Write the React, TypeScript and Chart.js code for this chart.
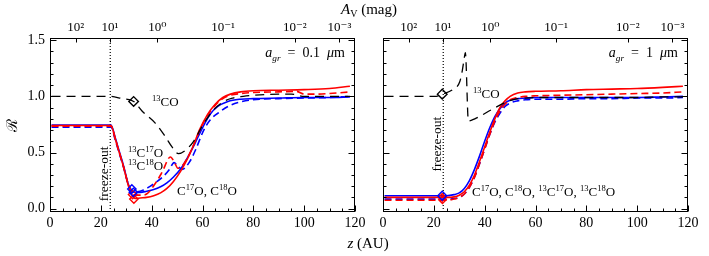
import React, { useEffect, useRef } from 'react';
import { Chart, registerables } from 'chart.js';

Chart.register(...registerables);

const SERIF = '"Liberation Serif", "DejaVu Serif", "Times New Roman", serif';
const RED = '#ff0000';
const BLUE = '#0000ff';
const BLACK = '#000000';

// ---- axes ----
const zMin = 0;
const zMax = 120;
const rMin = -0.03;
const rMax = 1.52;
const zTicks = [0, 20, 40, 60, 80, 100, 120];
const zMinorStep = 5;
const rTicks = [0, 0.5, 1.0, 1.5];
const rMinorStep = 0.1;
const avTickZ = [10.1, 23.6, 42.2, 68.1, 96.3, 113.9];
const avTickLabels = ['10²', '10¹', '10⁰', '10⁻¹', '10⁻²', '10⁻³'];
const freezeOutZ = 23.7;

// ---- left panel (a_gr = 0.1 um) ----
const lBlueSolidZ = [0.6, 24, 25.7, 27, 28.9, 30.9, 32.3, 33.5, 35.5, 38, 40.8, 43.5, 46, 48.5, 51.3, 54, 57, 60, 63, 66, 70, 75, 80, 90, 100, 110, 118];
const lBlueSolidR = [0.745, 0.745, 0.63, 0.53, 0.385, 0.21, 0.155, 0.145, 0.145, 0.155, 0.17, 0.195, 0.23, 0.28, 0.35, 0.45, 0.58, 0.72, 0.84, 0.91, 0.955, 0.975, 0.98, 0.985, 0.99, 0.99, 0.995];

const lRedSolidZ = [0.6, 24, 25.7, 27, 28.9, 30.9, 32.3, 33.5, 35.5, 38, 40.8, 43.5, 46, 48.5, 51.3, 54, 56, 59, 62, 65, 68, 71, 75, 80, 90, 100, 110, 118];
const lRedSolidR = [0.74, 0.74, 0.62, 0.52, 0.375, 0.2, 0.12, 0.09, 0.095, 0.1, 0.115, 0.14, 0.18, 0.24, 0.33, 0.44, 0.54, 0.71, 0.84, 0.93, 0.99, 1.02, 1.04, 1.05, 1.055, 1.06, 1.07, 1.09];

const lRedDashZ = [0.6, 24, 25.7, 27, 28.9, 30.9, 32.3, 34, 36, 38, 41, 44, 47.4, 49, 50.3, 52, 54, 56, 59, 62, 65, 68, 71, 75, 80, 90, 97, 100, 104, 110, 118];
const lRedDashR = [0.735, 0.735, 0.62, 0.52, 0.375, 0.21, 0.14, 0.12, 0.12, 0.13, 0.21, 0.32, 0.46, 0.41, 0.36, 0.38, 0.45, 0.54, 0.7, 0.83, 0.92, 0.98, 1.01, 1.025, 1.035, 1.04, 1.045, 1.02, 1.02, 1.025, 1.04];

const lBlueDashZ = [0.6, 24, 25.7, 27, 28.9, 30.9, 32.3, 34, 36.8, 39.5, 42, 44.7, 47, 48.8, 50.3, 52, 55, 57.2, 60.5, 63, 67, 70, 74, 80, 90, 100, 110, 118];
const lBlueDashR = [0.725, 0.725, 0.61, 0.51, 0.37, 0.21, 0.16, 0.15, 0.165, 0.2, 0.24, 0.29, 0.35, 0.41, 0.38, 0.35, 0.42, 0.52, 0.7, 0.79, 0.865, 0.91, 0.945, 0.97, 0.98, 0.985, 0.99, 1.0];

const lBlackDashZ = [0.6, 24, 28.3, 32.9, 36.2, 41.5, 45.4, 48, 50.5, 53.3, 56.5, 60, 64, 68, 72, 76, 80, 90, 95, 100, 110, 118];
const lBlackDashR = [1.0, 1.0, 0.98, 0.955, 0.87, 0.76, 0.64, 0.55, 0.49, 0.52, 0.6, 0.74, 0.87, 0.95, 0.985, 1.0, 1.01, 1.02, 1.02, 1.0, 1.0, 1.0];

const lBlackDiamondZ = [32.9];
const lBlackDiamondR = [0.955];
const lBlueDiamondZ = [32.2, 32.8];
const lBlueDiamondR = [0.175, 0.145];
const lRedDiamondZ = [32.5, 33.0];
const lRedDiamondR = [0.125, 0.085];

// ---- right panel (a_gr = 1 um) ----
const rGridZ = [0.6, 25, 28, 30, 32, 34, 36, 38, 40, 42, 44, 46, 48, 50, 53, 56, 60, 70, 80, 90, 100, 110, 118];
const rBlueSolidR = [0.115, 0.115, 0.125, 0.14, 0.18, 0.25, 0.35, 0.47, 0.6, 0.72, 0.82, 0.89, 0.94, 0.965, 0.98, 0.985, 0.99, 0.99, 0.99, 0.99, 0.99, 0.995, 1.0];
const rRedSolidR = [0.1, 0.1, 0.105, 0.12, 0.15, 0.21, 0.3, 0.42, 0.55, 0.68, 0.8, 0.9, 0.96, 1.0, 1.03, 1.04, 1.045, 1.05, 1.06, 1.065, 1.07, 1.08, 1.09];
const rRedDashR = [0.075, 0.075, 0.085, 0.1, 0.13, 0.19, 0.28, 0.4, 0.53, 0.66, 0.78, 0.87, 0.93, 0.97, 0.99, 1.0, 1.005, 1.01, 1.015, 1.02, 1.025, 1.03, 1.04];
const rBlueDashR = [0.085, 0.085, 0.09, 0.1, 0.13, 0.19, 0.28, 0.4, 0.53, 0.66, 0.77, 0.85, 0.91, 0.94, 0.96, 0.97, 0.975, 0.975, 0.98, 0.98, 0.985, 0.985, 0.99];

const rBlackDashZ = [0.6, 21, 23.3, 27.4, 30.2, 31.2, 31.9, 32.4, 33.6, 36.1, 42.6, 48.5, 52, 56, 60, 70, 80, 90, 100, 110, 118];
const rBlackDashR = [1.0, 1.0, 1.02, 1.06, 1.13, 1.23, 1.33, 1.39, 0.78, 0.8, 0.88, 0.95, 0.975, 0.985, 0.99, 0.99, 0.99, 0.99, 0.99, 0.995, 0.995];

const rBlackDiamondZ = [23.3];
const rBlackDiamondR = [1.02];
const rBlueDiamondZ = [23.3];
const rBlueDiamondR = [0.115];
const rRedDiamondZ = [23.3, 23.4];
const rRedDiamondR = [0.1, 0.08];

// ---- annotations (data coordinates) ----
type Ann = { z: number; r: number; text: string; align?: 'left' | 'right' | 'center'; rotate?: boolean; size?: number };

const leftAnnotations: Ann[] = [
  { z: 40.1, r: 0.95, text: '^{13}CO' },
  { z: 30.7, r: 0.495, text: '^{13}C^{17}O' },
  { z: 30.7, r: 0.38, text: '^{13}C^{18}O' },
  { z: 50, r: 0.157, text: 'C^{17}O, C^{18}O' },
  { z: 21.2, r: 0.31, text: 'freeze-out', rotate: true, size: 13.5 },
  { z: 116, r: 1.39, text: '*a*_{gr}\u2002=\u20020.1\u2002*\u03bc*m', align: 'right', size: 14 },
];

const rightAnnotations: Ann[] = [
  { z: 35.4, r: 1.02, text: '^{13}CO' },
  { z: 35, r: 0.148, text: 'C^{17}O, C^{18}O, ^{13}C^{17}O, ^{13}C^{18}O' },
  { z: 20.9, r: 0.575, text: 'freeze-out', rotate: true, size: 13.5 },
  { z: 116, r: 1.39, text: '*a*_{gr}\u2002=\u20021\u2002*\u03bc*m', align: 'right', size: 14 },
];

const pts = (z: number[], r: number[]) => z.map((v, i) => ({ x: v, y: r[i] }));

type Seg = { t: string; kind: 'n' | 'sup' | 'sub'; italic: boolean };
function parseRich(s: string): Seg[] {
  const out: Seg[] = [];
  const re = /\^\{([^}]*)\}|_\{([^}]*)\}|\*([^*]*)\*|([^\^_*]+)/g;
  let m: RegExpExecArray | null;
  while ((m = re.exec(s))) {
    if (m[1] !== undefined) out.push({ t: m[1], kind: 'sup', italic: false });
    else if (m[2] !== undefined) out.push({ t: m[2], kind: 'sub', italic: true });
    else if (m[3] !== undefined) out.push({ t: m[3], kind: 'n', italic: true });
    else out.push({ t: m[4], kind: 'n', italic: false });
  }
  return out;
}

function drawRich(ctx: CanvasRenderingContext2D, text: string, x: number, yCenter: number, size: number, align: string) {
  const segs = parseRich(text).map((s) => {
    const fs = s.kind === 'n' ? size : size * 0.66;
    const font = `${s.italic ? 'italic ' : ''}${fs}px ${SERIF}`;
    ctx.font = font;
    return { ...s, font, width: ctx.measureText(s.t).width };
  });
  const total = segs.reduce((a, s) => a + s.width, 0);
  let cx = align === 'right' ? x - total : align === 'center' ? x - total / 2 : x;
  const base = yCenter + size * 0.33;
  ctx.textAlign = 'left';
  ctx.textBaseline = 'alphabetic';
  for (const s of segs) {
    ctx.font = s.font;
    const dy = s.kind === 'sup' ? -size * 0.4 : s.kind === 'sub' ? size * 0.25 : 0;
    ctx.fillText(s.t, cx, base + dy);
    cx += s.width;
  }
}

function framePlugin(anns: Ann[]) {
  return {
    id: 'frame',
    afterDatasetsDraw(chart: any) {
      const { ctx, chartArea: a, scales } = chart;
      const xs = scales.x;
      const xt = scales.xTop;
      const ys = scales.y;
      ctx.save();
      ctx.strokeStyle = BLACK;
      ctx.lineWidth = 1;
      ctx.setLineDash([]);
      const L = Math.round(a.left) + 0.5;
      const R = Math.round(a.right) - 0.5;
      const T = Math.round(a.top) + 0.5;
      const B = Math.round(a.bottom) - 0.5;
      ctx.strokeRect(L, T, R - L, B - T);
      ctx.beginPath();
      const nz = Math.round((zMax - zMin) / zMinorStep);
      for (let k = 0; k <= nz; k++) {
        const v = zMin + k * zMinorStep;
        const px = Math.round(xs.getPixelForValue(v)) + 0.5;
        const major = zTicks.includes(v);
        const len = major ? 6 : 3;
        ctx.moveTo(px, B);
        ctx.lineTo(px, B - len);
      }
      for (const v of avTickZ) {
        const px = Math.round(xt.getPixelForValue(v)) + 0.5;
        ctx.moveTo(px, T);
        ctx.lineTo(px, T + 4);
      }
      const nr = Math.round(1.5 / rMinorStep);
      for (let k = 0; k <= nr; k++) {
        const v = k * rMinorStep;
        const py = Math.round(ys.getPixelForValue(v)) + 0.5;
        const major = k % 5 === 0;
        const len = major ? 6 : 3;
        ctx.moveTo(L, py);
        ctx.lineTo(L + len, py);
        ctx.moveTo(R, py);
        ctx.lineTo(R - len, py);
      }
      ctx.stroke();

      ctx.fillStyle = BLACK;
      for (const an of anns) {
        const px = xs.getPixelForValue(an.z);
        const py = ys.getPixelForValue(an.r);
        const size = an.size ?? 13;
        if (an.rotate) {
          ctx.save();
          ctx.translate(px, py);
          ctx.rotate(-Math.PI / 2);
          drawRich(ctx, an.text, 0, 0, size, 'center');
          ctx.restore();
        } else {
          drawRich(ctx, an.text, px, py, size, an.align ?? 'left');
        }
      }
      ctx.restore();
    },
  };
}

const line = (z: number[], r: number[], color: string, dash: number[], width = 1.6) => ({
  data: pts(z, r),
  borderColor: color,
  backgroundColor: color,
  borderWidth: width,
  borderDash: dash,
  pointRadius: 0,
  pointHoverRadius: 0,
  fill: false,
  cubicInterpolationMode: 'monotone',
});

const diamonds = (z: number[], r: number[], color: string, radius: number) => ({
  data: pts(z, r),
  showLine: false,
  pointStyle: 'rectRot',
  pointRadius: radius,
  pointHoverRadius: radius,
  borderColor: color,
  backgroundColor: 'rgba(0,0,0,0)',
  pointBorderColor: color,
  pointBackgroundColor: 'rgba(0,0,0,0)',
  pointBorderWidth: 1.4,
});

const freezeLine = () => ({
  data: [
    { x: freezeOutZ, y: rMin },
    { x: freezeOutZ, y: rMax },
  ],
  borderColor: BLACK,
  borderWidth: 1.2,
  borderDash: [1, 2],
  pointRadius: 0,
  tension: 0,
  cubicInterpolationMode: 'default',
  fill: false,
});

type PanelSpec = {
  datasets: any[];
  annotations: Ann[];
  showY: boolean;
  yWidth: number;
  padRight: number;
};

function makeConfig(p: PanelSpec): any {
  return {
    type: 'line',
    data: { datasets: p.datasets },
    options: {
      animation: false,
      responsive: false,
      events: [],
      layout: { padding: { left: 0, right: p.padRight, top: 0, bottom: 0 } },
      plugins: { legend: { display: false }, tooltip: { enabled: false }, title: { display: false } },
      scales: {
        x: {
          type: 'linear',
          axis: 'x',
          position: 'bottom',
          min: zMin,
          max: zMax,
          grid: { display: false, drawTicks: false },
          border: { display: false },
          ticks: { font: { family: SERIF, size: 14 }, color: BLACK, padding: 3, maxRotation: 0, autoSkip: false },
          afterBuildTicks: (s: any) => {
            s.ticks = zTicks.map((v) => ({ value: v }));
          },
          afterFit: (s: any) => {
            s.height = 44;
          },
        },
        xTop: {
          type: 'linear',
          axis: 'x',
          position: 'top',
          min: zMin,
          max: zMax,
          grid: { display: false, drawTicks: false },
          border: { display: false },
          ticks: {
            font: { family: SERIF, size: 13 },
            color: BLACK,
            padding: 3,
            maxRotation: 0,
            autoSkip: false,
            callback: (_v: any, i: number) => avTickLabels[i],
          },
          afterBuildTicks: (s: any) => {
            s.ticks = avTickZ.map((v) => ({ value: v }));
          },
          afterFit: (s: any) => {
            s.height = 38;
          },
        },
        y: {
          type: 'linear',
          min: rMin,
          max: rMax,
          grid: { display: false, drawTicks: false },
          border: { display: false },
          ticks: {
            display: p.showY,
            font: { family: SERIF, size: 14 },
            color: BLACK,
            padding: 5,
            callback: (v: any) => Number(v).toFixed(1),
          },
          title: {
            display: p.showY,
            text: '\u211B',
            color: BLACK,
            font: { family: SERIF, size: 15 },
            padding: { top: 4, bottom: 0 },
          },
          afterBuildTicks: (s: any) => {
            s.ticks = rTicks.map((v) => ({ value: v }));
          },
          afterFit: (s: any) => {
            s.width = p.yWidth;
          },
        },
      },
    },
    plugins: [framePlugin(p.annotations)],
  };
}

const leftSpec: PanelSpec = {
  datasets: [
    diamonds(lBlackDiamondZ, lBlackDiamondR, BLACK, 4.8),
    diamonds(lBlueDiamondZ, lBlueDiamondR, BLUE, 4.2),
    diamonds(lRedDiamondZ, lRedDiamondR, RED, 4.2),
    line(lBlackDashZ, lBlackDashR, BLACK, [9, 6], 1.3),
    line(lRedSolidZ, lRedSolidR, RED, []),
    line(lRedDashZ, lRedDashR, RED, [7, 4]),
    line(lBlueSolidZ, lBlueSolidR, BLUE, []),
    line(lBlueDashZ, lBlueDashR, BLUE, [7, 4]),
    freezeLine(),
  ],
  annotations: leftAnnotations,
  showY: true,
  yWidth: 50,
  padRight: 15,
};

const rightSpec: PanelSpec = {
  datasets: [
    diamonds(rBlackDiamondZ, rBlackDiamondR, BLACK, 4.8),
    diamonds(rBlueDiamondZ, rBlueDiamondR, BLUE, 4.5),
    diamonds(rRedDiamondZ, rRedDiamondR, RED, 3.8),
    line(rBlackDashZ, rBlackDashR, BLACK, [9, 6], 1.3),
    line(rGridZ, rRedSolidR, RED, []),
    line(rGridZ, rRedDashR, RED, [7, 4]),
    line(rGridZ, rBlueSolidR, BLUE, []),
    line(rGridZ, rBlueDashR, BLUE, [7, 4]),
    freezeLine(),
  ],
  annotations: rightAnnotations,
  showY: false,
  yWidth: 13,
  padRight: 21,
};

function ChartCanvas({ spec, left, width }: { spec: PanelSpec; left: number; width: number }) {
  const ref = useRef<HTMLCanvasElement>(null);
  useEffect(() => {
    if (!ref.current) return;
    const chart = new Chart(ref.current, makeConfig(spec));
    return () => chart.destroy();
  }, [spec]);
  return (
    <canvas
      ref={ref}
      width={width}
      height={256}
      style={{ position: 'absolute', left, top: 0, width, height: 256, display: 'block' }}
    />
  );
}

export default function App() {
  useEffect(() => {
    document.body.style.margin = '0';
  }, []);
  return (
    <div style={{ position: 'relative', width: 709, height: 256, background: '#fff', overflow: 'hidden' }}>
      <ChartCanvas spec={leftSpec} left={0} width={370} />
      <ChartCanvas spec={rightSpec} left={370} width={339} />
      <div
        style={{
          position: 'absolute',
          left: 369,
          top: 0,
          transform: 'translateX(-50%)',
          fontFamily: SERIF,
          fontSize: 15,
          lineHeight: '18px',
          whiteSpace: 'nowrap',
          color: BLACK,
        }}
      >
        <i>A</i>
        <span style={{ fontSize: 10, position: 'relative', top: 3 }}>V</span> (mag)
      </div>
      <div
        style={{
          position: 'absolute',
          left: 368,
          top: 234,
          transform: 'translateX(-50%)',
          fontFamily: SERIF,
          fontSize: 15,
          lineHeight: '18px',
          whiteSpace: 'nowrap',
          color: BLACK,
        }}
      >
        <i>z</i> (AU)
      </div>
    </div>
  );
}
